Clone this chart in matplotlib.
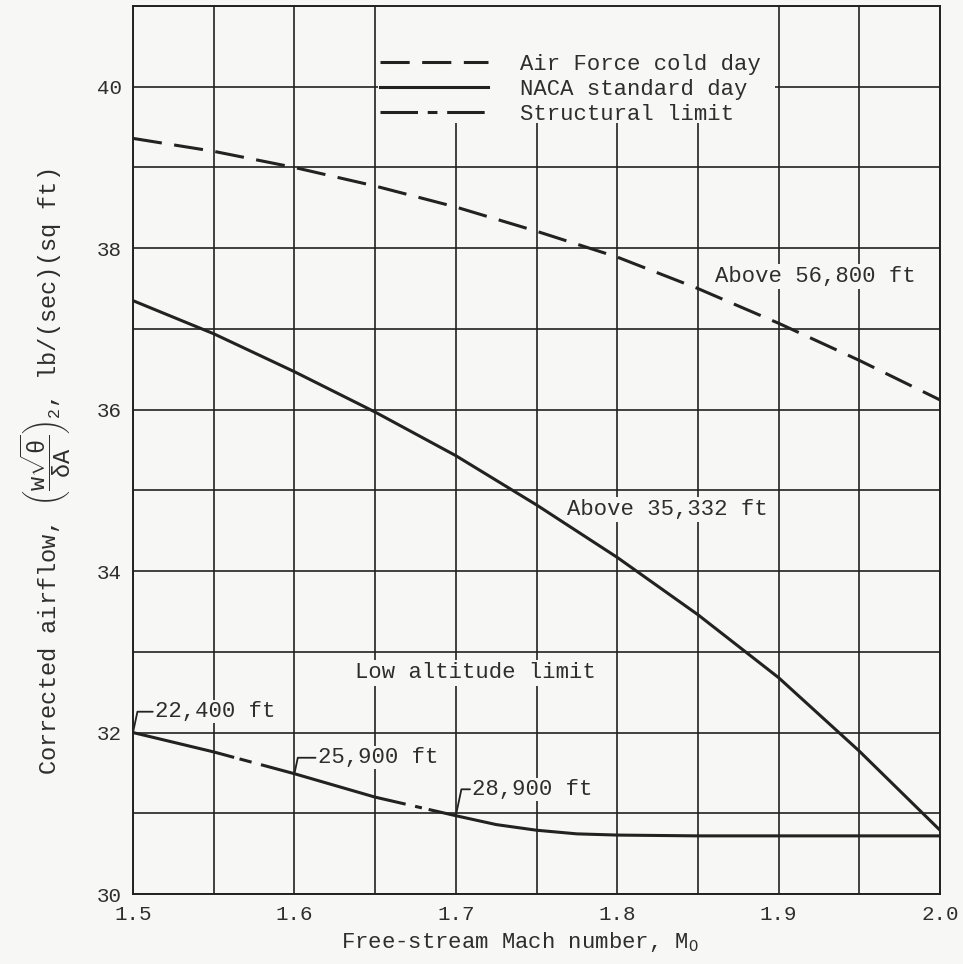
import matplotlib
matplotlib.use("Agg")
import matplotlib.pyplot as plt
from matplotlib.ticker import MultipleLocator
from matplotlib.lines import Line2D
from matplotlib.patches import Rectangle

# ---- data ----
mach = [1.5, 1.55, 1.6, 1.65, 1.7, 1.75, 1.8, 1.85, 1.9, 1.95, 2.0]
af_cold_day = [39.36, 39.20, 39.00, 38.77, 38.51, 38.21, 37.89, 37.50, 37.07, 36.61, 36.12]
naca_std_day = [37.35, 36.94, 36.47, 35.97, 35.43, 34.82, 34.17, 33.46, 32.68, 31.77, 30.79]

low_mach = [1.5, 1.55, 1.6, 1.65, 1.7, 1.725, 1.75, 1.775, 1.8, 1.85, 1.9, 1.95, 2.0]
low_alt_limit = [32.0, 31.76, 31.49, 31.20, 30.97, 30.86, 30.79, 30.745, 30.73, 30.72, 30.72, 30.72, 30.72]

alt_labels = ["22,400 ft", "25,900 ft", "28,900 ft"]
alt_idx = [0, 2, 4]  # indices into low_mach

x_ticks = [1.5, 1.6, 1.7, 1.8, 1.9, 2.0]
x_ticklabels = ["1.5", "1.6", "1.7", "1.8", "1.9", "2.0"]
y_ticks = [30, 32, 34, 36, 38, 40]
y_ticklabels = ["30", "32", "34", "36", "38", "40"]

legend_labels = ["Air Force cold day", "NACA standard day", "Structural limit"]

# ---- style ----
plt.rcParams['font.family'] = ['Liberation Mono', 'DejaVu Sans Mono']
plt.rcParams['mathtext.fontset'] = 'custom'
plt.rcParams['mathtext.rm'] = 'Liberation Mono'
plt.rcParams['mathtext.it'] = 'Liberation Mono'
plt.rcParams['mathtext.bf'] = 'Liberation Mono:bold'
plt.rcParams['lines.scale_dashes'] = False

BG = '#f7f7f5'
INK = '#22221e'
TXT = '#2e2e2a'

fig = plt.figure(figsize=(9.63, 9.64), dpi=100, facecolor=BG)
ax = fig.add_axes([133/963, 1-894/964, (940-133)/963, (894-6)/964])
ax.set_facecolor(BG)
ax.set_xlim(1.5, 2.0)
ax.set_ylim(30, 41)

ax.xaxis.set_minor_locator(MultipleLocator(0.05))
ax.yaxis.set_minor_locator(MultipleLocator(1))
ax.set_xticks(x_ticks)
ax.set_xticklabels(x_ticklabels)
ax.set_yticks(y_ticks)
ax.set_yticklabels(y_ticklabels)
ax.tick_params(which='both', length=0, labelsize=15, colors=TXT, pad=8)
ax.set_axisbelow(True)
ax.grid(which='both', color=INK, lw=1.2)
for s in ax.spines.values():
    s.set_color(INK)
    s.set_linewidth(1.4)

LW = 2.2
af_dash = (0, (21, 9))
struct_dash = (0, (27, 7, 7, 7))
low_dash = (0, (75, 4, 9, 7, 108, 7, 5, 5, 3000))

ax.plot(mach, af_cold_day, color=INK, lw=LW, linestyle=af_dash, dash_capstyle='butt', zorder=3)
ax.plot(mach, naca_std_day, color=INK, lw=LW, zorder=3)
ax.plot(low_mach, low_alt_limit, color=INK, lw=LW, linestyle=low_dash, dash_capstyle='butt', zorder=3)

# legend background covering the grid
ax.add_patch(Rectangle((1.652, 39.55), 0.246, 1.45, facecolor=BG, edgecolor='none', zorder=1))
handles = [Line2D([], [], color=INK, lw=LW, linestyle=af_dash, dash_capstyle='butt'),
           Line2D([], [], color=INK, lw=LW),
           Line2D([], [], color=INK, lw=LW, linestyle=struct_dash, dash_capstyle='butt')]
leg = ax.legend(handles, legend_labels, loc='upper left', bbox_to_anchor=(0.306, 0.946),
                frameon=False, fontsize=16, handlelength=4.86, handletextpad=1.44,
                labelspacing=0.17, borderpad=0, borderaxespad=0)
for t in leg.get_texts():
    t.set_color(TXT)

box = dict(boxstyle='square,pad=0.1', facecolor=BG, edgecolor='none')
ax.text(1.8606, 37.65, "Above 56,800 ft", fontsize=16, color=TXT, ha='left', va='center', bbox=box, zorder=4)
ax.text(1.769, 34.76, "Above 35,332 ft", fontsize=16, color=TXT, ha='left', va='center', bbox=box, zorder=4)
ax.text(1.6375, 32.74, "Low altitude limit", fontsize=16, color=TXT, ha='left', va='center', bbox=box, zorder=4)

offsets = [(16, 15), (17, 11.5), (12, 19)]
for lab, i, off in zip(alt_labels, alt_idx, offsets):
    ax.annotate(lab, xy=(low_mach[i], low_alt_limit[i]), xytext=off, textcoords='offset points',
                fontsize=16, color=TXT, ha='left', va='center',
                bbox=dict(boxstyle='square,pad=0.05', facecolor=BG, edgecolor='none'),
                arrowprops=dict(arrowstyle='-', color=INK, lw=1.3, shrinkA=1, shrinkB=0,
                                relpos=(0, 0.5),
                                connectionstyle='angle,angleA=0,angleB=78,rad=0'),
                zorder=4)

ax.set_xlabel(r"Free-stream Mach number, M$_\mathrm{O}$", fontsize=16, color=TXT)
ax.xaxis.set_label_coords(0.48, -0.040)
ax.xaxis.label.set_va('top')

ax.set_ylabel(r"Corrected airflow, $\left(\dfrac{\mathrm{w}\sqrt{\theta}}{\delta\mathrm{A}}\right)_2$, lb/(sec)(sq ft)",
              fontsize=17, color=TXT)
ax.yaxis.label.set_rotation_mode('default')
ax.yaxis.label.set_ha('center')
ax.yaxis.label.set_va('bottom')
ax.yaxis.set_label_coords((46-133)/807, (894-775)/888)

fig.savefig("out.png", dpi=100, facecolor=BG)
